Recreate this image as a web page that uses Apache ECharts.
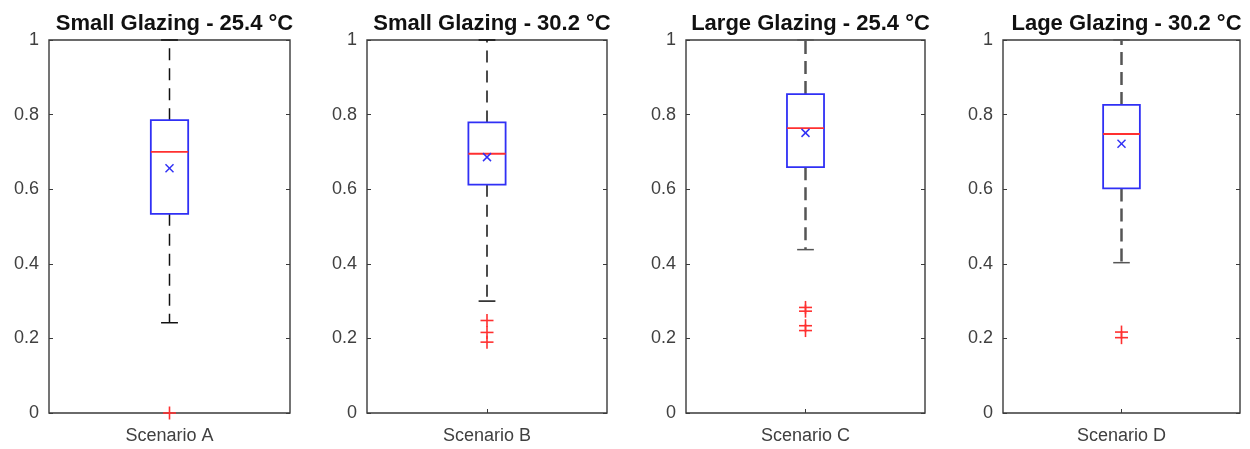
<!DOCTYPE html>
<html>
<head>
<meta charset="utf-8">
<script src="https://cdn.jsdelivr.net/npm/echarts@6/dist/echarts.min.js"></script>
<style>html,body{margin:0;padding:0;background:#fff;}#c{width:1250px;height:449px;}</style>
</head>
<body>
<div id="c"></div>
<script>
// ---- data ----
const titles = ['Small Glazing - 25.4 °C', 'Small Glazing - 30.2 °C', 'Large Glazing - 25.4 °C', 'Lage Glazing - 30.2 °C'];
const categories = ['Scenario A', 'Scenario B', 'Scenario C', 'Scenario D'];
const upperWhisker = [1.0, 1.0, 1.0, 1.0];
const q3 = [0.785, 0.779, 0.855, 0.826];
const median = [0.700, 0.695, 0.764, 0.748];
const q1 = [0.534, 0.612, 0.659, 0.602];
const lowerWhisker = [0.242, 0.300, 0.438, 0.403];
const means = [0.656, 0.686, 0.751, 0.722];
const outliers = [[0.0], [0.248, 0.216, 0.190], [0.283, 0.273, 0.234, 0.221], [0.217, 0.202]];
const yTicks = [0, 0.2, 0.4, 0.6, 0.8, 1];

// ---- layout ----
const FONT = "'Liberation Sans', Arial, Helvetica, sans-serif";
const grids = [
  {left: 49, width: 241},
  {left: 367, width: 240},
  {left: 686, width: 239},
  {left: 1003, width: 237}
];
const gridTop = 40, gridHeight = 373;
const whiskerStyle = [
  {stroke: '#111', lineWidth: 1.5, lineDash: [12, 8]},
  {stroke: '#111', lineWidth: 1.5, lineDash: [12, 8]},
  {stroke: '#555', lineWidth: 2.5, lineDash: [13, 7]},
  {stroke: '#555', lineWidth: 2.5, lineDash: [13, 7]}
];
const BLUE = '#3030f5', RED = '#ff3030';

const option = {
  backgroundColor: '#fff',
  animation: false,
  title: [], grid: [], xAxis: [], yAxis: [], series: []
};

categories.forEach((cat, i) => {
  const g = grids[i];
  option.title.push({
    text: titles[i], left: g.left + g.width / 2, top: 8, textAlign: 'center',
    textStyle: {fontFamily: FONT, fontWeight: 'bold', fontSize: 22, color: '#111'}
  });
  option.grid.push({
    left: g.left, width: g.width, top: gridTop, height: gridHeight,
    show: true, borderColor: '#3a3a3a', borderWidth: 1.4, backgroundColor: '#fff'
  });
  option.xAxis.push({
    type: 'category', gridIndex: i, data: [cat], boundaryGap: true,
    axisLine: {show: false},
    axisTick: {show: true, inside: true, alignWithLabel: true, length: 4, lineStyle: {color: '#3a3a3a'}},
    axisLabel: {margin: 14, fontSize: 18, color: '#404040', fontFamily: FONT},
    splitLine: {show: false}
  });
  const yBase = {
    type: 'value', gridIndex: i, min: 0, max: 1, interval: 0.2,
    axisLine: {show: false}, splitLine: {show: false},
    axisTick: {show: true, inside: true, length: 4, lineStyle: {color: '#3a3a3a'}}
  };
  option.yAxis.push(Object.assign({}, yBase, {
    position: 'left',
    axisLabel: {margin: 10, fontSize: 18, color: '#404040', fontFamily: FONT,
      formatter: v => (yTicks.indexOf(Math.round(v * 10) / 10) >= 0 ? String(Math.round(v * 10) / 10) : '')}
  }));
  option.yAxis.push(Object.assign({}, yBase, {position: 'right', axisLabel: {show: false}}));

  const yIdx = i * 2;
  // box + whiskers
  option.series.push({
    type: 'custom', xAxisIndex: i, yAxisIndex: yIdx, z: 3,
    data: [[0, lowerWhisker[i], q1[i], median[i], q3[i], upperWhisker[i]]],
    renderItem: function (params, api) {
      const band = api.size([1, 0])[0];
      const cx = api.coord([0, 0])[0];
      const yLo = api.coord([0, api.value(1)])[1];
      const yQ1 = api.coord([0, api.value(2)])[1];
      const yMed = api.coord([0, api.value(3)])[1];
      const yQ3 = api.coord([0, api.value(4)])[1];
      const yHi = api.coord([0, api.value(5)])[1];
      const hw = band * 0.155 / 2;
      const cw = band * 0.07 / 2;
      const ws = whiskerStyle[i];
      const capStyle = {stroke: ws.stroke, lineWidth: 1.5};
      return {
        type: 'group',
        children: [
          {type: 'line', shape: {x1: cx, y1: yQ3, x2: cx, y2: yHi}, style: Object.assign({}, ws)},
          {type: 'line', shape: {x1: cx, y1: yQ1, x2: cx, y2: yLo}, style: Object.assign({}, ws)},
          {type: 'line', shape: {x1: cx - cw, y1: yHi, x2: cx + cw, y2: yHi}, style: capStyle},
          {type: 'line', shape: {x1: cx - cw, y1: yLo, x2: cx + cw, y2: yLo}, style: capStyle},
          {type: 'rect', shape: {x: cx - hw, y: yQ3, width: hw * 2, height: yQ1 - yQ3},
            style: {fill: 'none', stroke: BLUE, lineWidth: 1.8}},
          {type: 'line', shape: {x1: cx - hw, y1: yMed, x2: cx + hw, y2: yMed},
            style: {stroke: RED, lineWidth: 1.8}}
        ]
      };
    }
  });
  // mean marker (x)
  option.series.push({
    type: 'custom', xAxisIndex: i, yAxisIndex: yIdx, z: 4,
    data: [[0, means[i]]],
    renderItem: function (params, api) {
      const p = api.coord([0, api.value(1)]);
      const s = 4;
      const st = {stroke: BLUE, lineWidth: 1.5};
      return {type: 'group', children: [
        {type: 'line', shape: {x1: p[0] - s, y1: p[1] - s, x2: p[0] + s, y2: p[1] + s}, style: st},
        {type: 'line', shape: {x1: p[0] - s, y1: p[1] + s, x2: p[0] + s, y2: p[1] - s}, style: st}
      ]};
    }
  });
  // outliers (+)
  option.series.push({
    type: 'custom', xAxisIndex: i, yAxisIndex: yIdx, z: 4, clip: false,
    data: outliers[i].map(v => [0, v]),
    renderItem: function (params, api) {
      const p = api.coord([0, api.value(1)]);
      const s = 6.5;
      const st = {stroke: RED, lineWidth: 1.6};
      return {type: 'group', children: [
        {type: 'line', shape: {x1: p[0] - s, y1: p[1], x2: p[0] + s, y2: p[1]}, style: st},
        {type: 'line', shape: {x1: p[0], y1: p[1] - s, x2: p[0], y2: p[1] + s}, style: st}
      ]};
    }
  });
});

const chart = echarts.init(document.getElementById('c'), null, {renderer: 'canvas'});
chart.setOption(option);
</script>
</body>
</html>
